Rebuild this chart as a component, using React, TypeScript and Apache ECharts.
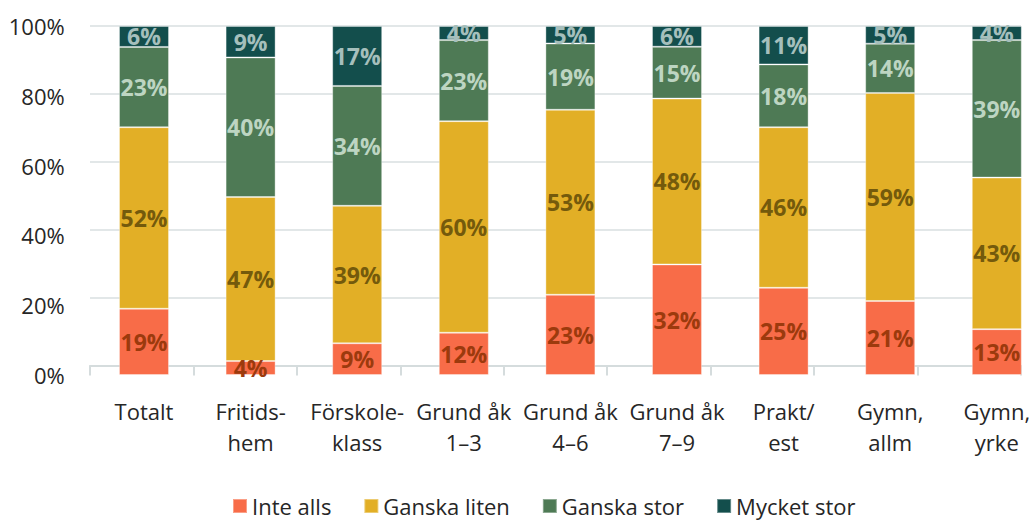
import React, { useEffect, useRef } from "react";
import * as echarts from "echarts";

const categories = [
  "Totalt",
  "Fritids-\nhem",
  "Förskole-\nklass",
  "Grund åk\n1–3",
  "Grund åk\n4–6",
  "Grund åk\n7–9",
  "Prakt/\nest",
  "Gymn,\nallm",
  "Gymn,\nyrke",
];
const seriesNames = ["Inte alls", "Ganska liten", "Ganska stor", "Mycket stor"];
const inteAlls = [19, 4, 9, 12, 23, 32, 25, 21, 13];
const ganskaLiten = [52, 47, 39, 60, 53, 48, 46, 59, 43];
const ganskaStor = [23, 40, 34, 23, 19, 15, 18, 14, 39];
const mycketStor = [6, 9, 17, 4, 5, 6, 11, 5, 4];
const yTicks = [0, 20, 40, 60, 80, 100];

const colors = ["#F86C48", "#E2AF26", "#4E7A55", "#134E4C"];
const labelColors = ["#9C3A0D", "#745A0C", "#BDD5C2", "#A5BFBC"];
const FONT = "'Open Sans', 'Noto Sans', sans-serif";

export default function App() {
  const ref = useRef<HTMLDivElement>(null);
  useEffect(() => {
    if (!ref.current) return;
    const chart = echarts.init(ref.current, undefined, { renderer: "svg" });
    const raw = [inteAlls, ganskaLiten, ganskaStor, mycketStor];
    const totals = categories.map((_, i) => raw.reduce((s, arr) => s + arr[i], 0));
    const series: any[] = raw.map((arr, k) => ({
      name: seriesNames[k],
      type: "bar",
      stack: "total",
      xAxisIndex: 0,
      yAxisIndex: 0,
      barWidth: 50,
      data: arr.map((v, i) => ({ value: (v / totals[i]) * 100 })),
      itemStyle: {
        color: colors[k],
        borderColor: "rgba(255,255,255,0.35)",
        borderWidth: 1,
      },
      label: {
        show: true,
        position: "inside",
        fontFamily: FONT,
        fontSize: 23,
        fontWeight: "bold",
        color: labelColors[k],
        formatter: (p: any) => `${arr[p.dataIndex]}%`,
      },
      emphasis: { disabled: true },
    }));
    series.push({
      type: "bar",
      xAxisIndex: 1,
      yAxisIndex: 1,
      data: [],
      silent: true,
    });
    chart.setOption({
      animation: false,
      textStyle: { fontFamily: FONT },
      legend: {
        data: seriesNames,
        left: 232,
        top: 495,
        padding: 0,
        itemWidth: 14,
        itemHeight: 14,
        itemGap: 32,
        icon: "rect",
        textStyle: { fontFamily: FONT, fontSize: 22, lineHeight: 22, color: "#262626" },
      },
      grid: [
        {
          left: 90.7,
          top: 26,
          width: 959.4,
          height: 349,
          containLabel: false,
          outerBoundsMode: "none",
        },
        {
          left: 90,
          right: 10,
          top: 26,
          bottom: 155.5,
          containLabel: false,
          outerBoundsMode: "none",
        },
      ],
      xAxis: [
        {
          type: "category",
          gridIndex: 0,
          data: categories,
          axisLine: { show: false },
          axisTick: { show: false },
          axisLabel: {
            interval: 0,
            margin: 20,
            fontFamily: FONT,
            fontSize: 22,
            lineHeight: 31,
            color: "#262626",
          },
        },
        {
          type: "category",
          gridIndex: 1,
          data: categories,
          offset: 9.5,
          axisLine: { show: true, lineStyle: { color: "#D5DCDD", width: 2 } },
          axisTick: { show: true, length: 10, lineStyle: { color: "#D5DCDD", width: 2 } },
          axisLabel: { show: false },
        },
      ],
      yAxis: [
        {
          type: "value",
          gridIndex: 0,
          min: yTicks[0],
          max: yTicks[yTicks.length - 1],
          interval: 20,
          axisLine: { show: false },
          axisTick: { show: false },
          splitLine: { show: false },
          axisLabel: {
            margin: 26,
            fontFamily: FONT,
            fontSize: 22,
            color: "#262626",
            formatter: "{value}%",
          },
        },
        {
          type: "value",
          gridIndex: 1,
          min: yTicks[0],
          max: yTicks[yTicks.length - 1],
          interval: 20,
          axisLine: { show: false },
          axisTick: { show: false },
          axisLabel: { show: false },
          splitLine: {
            show: true,
            showMinLine: false,
            lineStyle: { color: "#D9DFE0", width: 1.5 },
          },
        },
      ],
      series,
    });
    return () => chart.dispose();
  }, []);
  return (
    <div
      ref={ref}
      style={{ position: "absolute", left: 0, top: 0, width: 1031, height: 521, overflow: "hidden" }}
    />
  );
}
